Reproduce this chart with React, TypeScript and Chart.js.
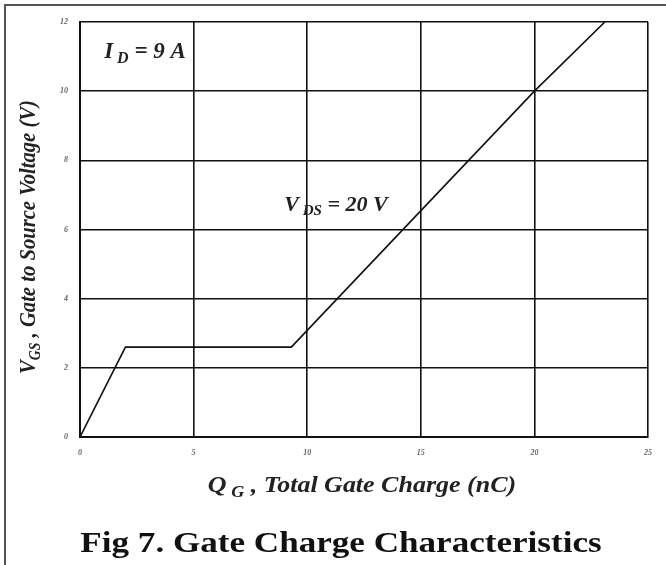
import React, { useEffect, useRef } from "react";
import { Chart, registerables } from "chart.js";

Chart.register(...registerables);

const chargeNC = [0, 2, 9.3, 20, 23.1];
const gateVolts = [0, 2.6, 2.6, 10, 12];
const xTickValues = [0, 5, 10, 15, 20, 25];
const yTickValues = [0, 2, 4, 6, 8, 10, 12];
const yTitle = [
  { t: "V", sub: false },
  { t: "GS", sub: true },
  { t: " , Gate to Source Voltage (V)", sub: false },
];
const xTitle = [
  { t: "Q", sub: false },
  { t: " G", sub: true },
  { t: " , Total Gate Charge (nC)", sub: false },
];
const idLabel = [
  { t: "I", sub: false },
  { t: " D", sub: true },
  { t: " = 9 A", sub: false },
];
const vdsLabel = [
  { t: "V", sub: false },
  { t: " DS", sub: true },
  { t: " = 20 V", sub: false },
];
const caption = [{ t: "Fig 7. Gate Charge Characteristics", sub: false }];

type Seg = { t: string; sub: boolean };

function drawRich(
  ctx: CanvasRenderingContext2D,
  segs: Seg[],
  size: number,
  style: string,
  family: string
) {
  const fontFor = (s: Seg) => `${style} ${s.sub ? Math.round(size * 0.68) : size}px ${family}`;
  let total = 0;
  const widths = segs.map((s) => {
    ctx.font = fontFor(s);
    const w = ctx.measureText(s.t).width;
    total += w;
    return w;
  });
  let x = -total / 2;
  ctx.textBaseline = "middle";
  ctx.textAlign = "left";
  segs.forEach((s, i) => {
    ctx.font = fontFor(s);
    ctx.fillText(s.t, x, s.sub ? size * 0.28 : 0);
    x += widths[i];
  });
}

const decorPlugin = {
  id: "decor",
  afterDraw(chart: any) {
    const ctx: CanvasRenderingContext2D = chart.ctx;
    const fam = '"Liberation Serif", "DejaVu Serif", serif';
    ctx.save();
    // outer frame (top + left)
    ctx.strokeStyle = "#555";
    ctx.lineWidth = 2;
    ctx.beginPath();
    ctx.moveTo(5, 565);
    ctx.lineTo(5, 5);
    ctx.lineTo(666, 5);
    ctx.stroke();
    ctx.fillStyle = "#222";
    // y title
    ctx.save();
    ctx.translate(29, 237);
    ctx.rotate(-Math.PI / 2);
    ctx.scale(0.86, 1);
    drawRich(ctx, yTitle, 24, "italic bold", fam);
    ctx.restore();
    // x title
    ctx.save();
    ctx.translate(362, 486);
    ctx.scale(1.13, 1);
    drawRich(ctx, xTitle, 23, "italic bold", fam);
    ctx.restore();
    // annotations
    ctx.save();
    ctx.translate(145, 52);
    drawRich(ctx, idLabel, 23, "italic bold", fam);
    ctx.restore();
    ctx.save();
    ctx.translate(336, 205);
    drawRich(ctx, vdsLabel, 22, "italic bold", fam);
    ctx.restore();
    // caption
    ctx.save();
    ctx.fillStyle = "#111";
    ctx.translate(341, 545);
    ctx.scale(1.21, 1);
    drawRich(ctx, caption, 29, "bold", fam);
    ctx.restore();
    ctx.restore();
  },
};

export default function App() {
  const ref = useRef<HTMLCanvasElement | null>(null);
  useEffect(() => {
    document.body.style.margin = "0";
    const canvas = ref.current;
    if (!canvas) return;
    const tickFont = { family: '"Liberation Serif", serif', size: 8, style: "italic", weight: "bold" };
    const chart = new Chart(canvas, {
      type: "scatter",
      data: {
        datasets: [
          {
            data: chargeNC.map((x, i) => ({ x, y: gateVolts[i] })),
            showLine: true,
            borderColor: "#111",
            borderWidth: 1.6,
            pointRadius: 0,
            fill: false,
          },
        ],
      },
      options: {
        responsive: false,
        animation: false,
        devicePixelRatio: 1,
        layout: { padding: { left: 0, top: 22, right: 18, bottom: 48 } },
        plugins: {
          legend: { display: false },
          tooltip: { enabled: false },
          title: { display: false },
        },
        scales: {
          x: {
            type: "linear",
            min: 0,
            max: 25,
            afterFit: (s: any) => {
              s.height = 80;
            },
            afterBuildTicks: (s: any) => {
              s.ticks = xTickValues.map((v) => ({ value: v }));
            },
            grid: { color: "#111", lineWidth: 1.6, drawTicks: false },
            border: { color: "#111", width: 2 },
            ticks: { padding: 11, color: "#666", font: tickFont, maxRotation: 0 },
          },
          y: {
            type: "linear",
            min: 0,
            max: 12,
            afterFit: (s: any) => {
              s.width = 80;
            },
            afterBuildTicks: (s: any) => {
              s.ticks = yTickValues.map((v) => ({ value: v }));
            },
            grid: { color: "#111", lineWidth: 1.6, drawTicks: false },
            border: { color: "#111", width: 2 },
            ticks: { padding: 12, color: "#666", font: tickFont },
          },
        },
      },
      plugins: [decorPlugin],
    } as any);
    return () => chart.destroy();
  }, []);
  return (
    <div style={{ width: 666, height: 565, background: "#fff" }}>
      <canvas ref={ref} width={666} height={565} style={{ display: "block" }} />
    </div>
  );
}
